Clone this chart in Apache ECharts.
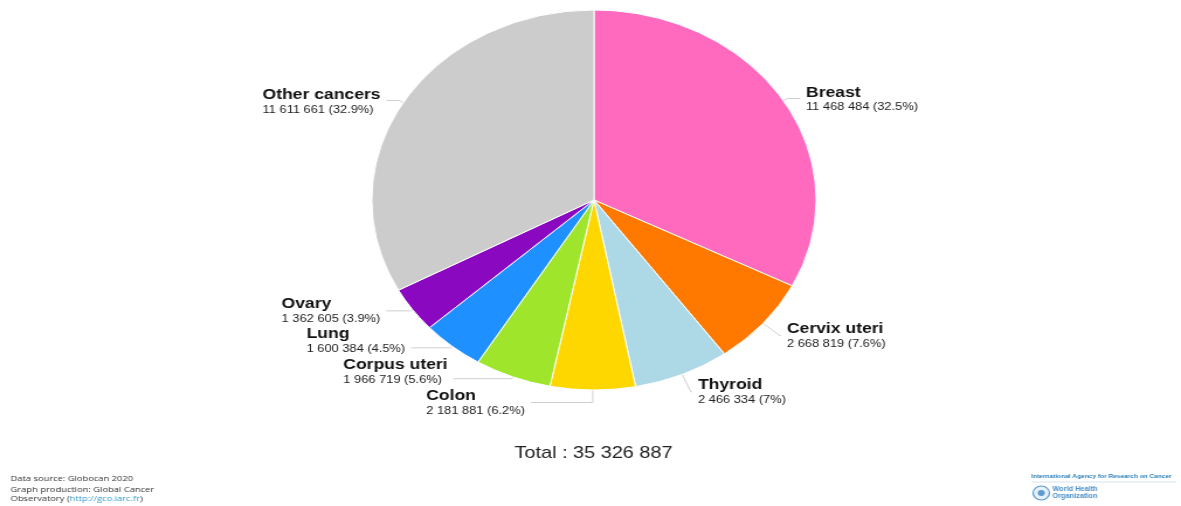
<!DOCTYPE html>
<html>
<head>
<meta charset="utf-8">
<script src="https://cdn.jsdelivr.net/npm/echarts@6/dist/echarts.min.js"></script>
<style>
html,body{margin:0;padding:0;background:#fff;overflow:hidden;width:1181px;height:506px;}
#wrap{position:absolute;left:0;top:0;width:1010px;height:506px;transform:scaleX(1.1693);transform-origin:0 0;}
#chart{width:1010px;height:506px;}
</style>
</head>
<body>
<div id="wrap"><div id="chart"></div></div>
<script>
const categories = ['Breast', 'Cervix uteri', 'Thyroid', 'Colon', 'Corpus uteri', 'Lung', 'Ovary', 'Other cancers'];
const values = [11468484, 2668819, 2466334, 2181881, 1966719, 1600384, 1362605, 11611661];
const colors = ['#ff69be', '#ff7800', '#add8e6', '#ffd700', '#9fe52c', '#1e90ff', '#8a08bf', '#cccccc'];
const totalLabel = 'Total : ';
const footerLines = ['Data source: Globocan 2020', 'Graph production: Global Cancer'];

// label-line layout (first radial segment, horizontal segment, vertical nudge of text)
const lineLen1 = [4, 19, 19, 12.5, 2, 2, 2, 4];
const lineLen2 = [11, 1, 1, 53, 50, 34, 21, 11];
const textNudge = [1, 0, 0, 0, -7, -7, 0, 1];

const total = values.reduce((a, b) => a + b, 0);
function fmt(n) { return String(n).replace(/\B(?=(\d{3})+(?!\d))/g, ' '); }
function pct(v) { let s = (v / total * 100).toFixed(1); if (s.endsWith('.0')) s = s.slice(0, -2); return s; }
function pad(d) { return d >= 0 ? [2 * d, 0, 0, 0] : [0, 0, -2 * d, 0]; }

const chart = echarts.init(document.getElementById('chart'));
chart.setOption({
  animation: false,
  series: [{
    type: 'pie',
    center: [508, 200],
    radius: 190,
    startAngle: 90,
    clockwise: true,
    avoidLabelOverlap: false,
    data: categories.map((c, i) => ({
      name: c, value: values[i],
      itemStyle: { color: colors[i] },
      label: { padding: pad(textNudge[i]) },
      labelLine: { length: lineLen1[i], length2: lineLen2[i] }
    })),
    itemStyle: { borderColor: '#fff', borderWidth: 1 },
    label: {
      formatter: p => '{n|' + p.name + '}\n{v|' + fmt(p.value) + ' (' + pct(p.value) + '%)}',
      rich: {
        n: { fontFamily: 'Liberation Sans', fontWeight: 'bold', fontSize: 15, color: '#111', align: 'left', lineHeight: 16 },
        v: { fontFamily: 'Liberation Sans', fontSize: 11, color: '#222', align: 'left', lineHeight: 14 }
      }
    },
    labelLine: { lineStyle: { color: '#cfcfcf', width: 1 } },
    emphasis: { disabled: true }
  }],
  graphic: [
    { type: 'text', left: 508 - 68, top: 445, style: { text: totalLabel + fmt(total), font: '17px "Liberation Sans"', fill: '#222' } },
    { type: 'text', left: 9, top: 473, style: { text: footerLines.join('\n'), font: '8px "Open Sans"', fill: '#333', lineHeight: 11 } },
    { type: 'text', left: 9, top: 495, style: { text: '{a|Observatory (}{b|http://gco.iarc.fr}{a|)}', rich: { a: { font: '8px "Open Sans"', fill: '#333' }, b: { font: '8px "Open Sans"', fill: '#3399cc' } } } },
    { type: 'text', left: 882, top: 473, style: { text: 'International Agency for Research on Cancer', font: 'bold 5.6px "Liberation Sans"', fill: '#2a7fba' } },
    { type: 'line', shape: { x1: 882, y1: 482, x2: 1006, y2: 482 }, style: { stroke: '#b9d3e6', lineWidth: 0.6 } },
    { type: 'circle', shape: { cx: 890.5, cy: 493, r: 7 }, style: { fill: '#e8f1f8', stroke: '#5b9bd0', lineWidth: 1.2 } },
    { type: 'circle', shape: { cx: 890.5, cy: 493, r: 3 }, style: { fill: '#5b9bd0' } },
    { type: 'text', left: 900, top: 486, style: { text: 'World Health\nOrganization', font: 'bold 6.3px "Liberation Sans"', fill: '#4b8fc7', lineHeight: 7 } }
  ]
});
</script>
</body>
</html>
